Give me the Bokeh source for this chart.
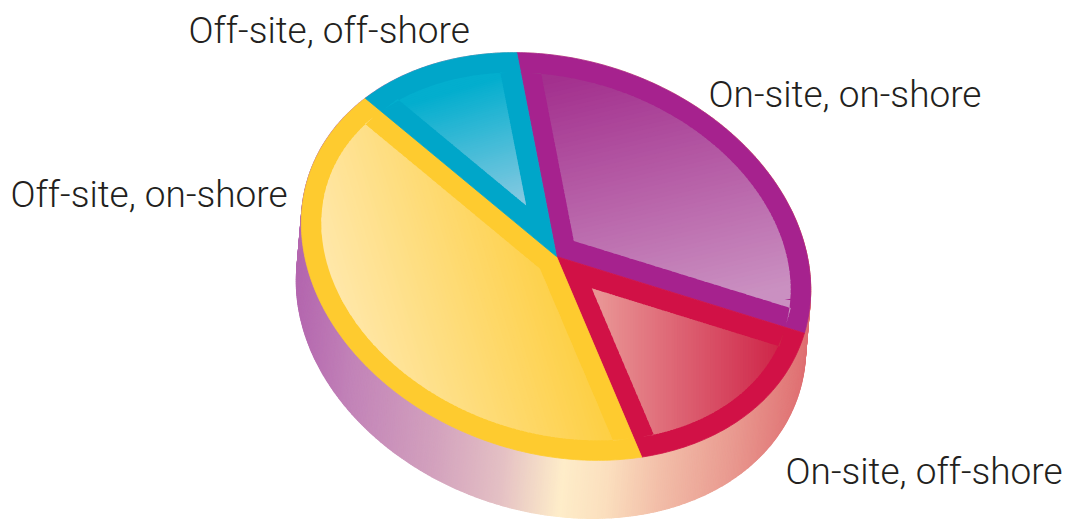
import numpy as np
from bokeh.plotting import figure
from bokeh.models import Range1d, ColumnDataSource
from bokeh.embed import file_html
from bokeh.resources import INLINE
from bokeh.core.properties import value

# ---------------- data ----------------
labels = ["On-site, on-shore", "On-site, off-shore", "Off-site, on-shore", "Off-site, off-shore"]
shares = [31, 16, 42, 11]
start_angle_deg = -112.7

# ---------------- style ----------------
border_colors = ["#A6228E", "#D11146", "#FECB2F", "#00A6C9"]
inner_from = ["#A3308E", "#E99494", "#FFE8AC", "#03AECE"]
inner_to = ["#CA90C1", "#CE2448", "#FDCC36", "#84C9E1"]
grad_axes = [((600, 70), (655, 315)), ((600, 330), (780, 330)),
             ((330, 300), (580, 225)), ((470, 85), (505, 205))]
side_stop_x = [295, 350, 430, 500, 560, 605, 660, 730, 805]
side_stop_c = ["#B365AE", "#C283B8", "#D2A0BD", "#E4C0C4", "#FEEDC9",
               "#FBDFBE", "#F2BDA8", "#E99A90", "#DF6F72"]
label_x = [708, 785, 10, 188]
label_y = [94, 470.5, 193.5, 29.5]

CX, CY = 555.5, 256.0
A, B = 260.0, 197.0
PHI = np.radians(18)
DEPTH = (-5.0, 58.0)
APEX = np.array([556.0, 256.0])
BORDER = 20.0


def hex2rgb(h):
    h = h.lstrip("#")
    return np.array([int(h[i:i + 2], 16) for i in (0, 2, 4)], dtype=float)


def rgb2hex(c):
    c = np.clip(np.round(c), 0, 255).astype(int)
    return "#%02x%02x%02x" % tuple(c)


def ell(t, dx=0.0, dy=0.0):
    u = A * np.cos(t)
    v = B * np.sin(t)
    x = CX + u * np.cos(PHI) - v * np.sin(PHI) + dx
    y = CY + u * np.sin(PHI) + v * np.cos(PHI) + dy
    return x, y


def inset_polygon(pts, d, interior):
    n = len(pts)
    lines = []
    for i in range(n):
        p = pts[i]
        q = pts[(i + 1) % n]
        e = q - p
        e = e / np.hypot(*e)
        nrm = np.array([-e[1], e[0]])
        if np.dot(nrm, interior - p) < 0:
            nrm = -nrm
        lines.append((p + d * nrm, e))
    out = []
    for i in range(n):
        P, E = lines[i - 1]
        Q, F = lines[i]
        den = E[0] * F[1] - E[1] * F[0]
        if abs(den) < 1e-9:
            out.append(Q)
        else:
            w = Q - P
            s = (w[0] * F[1] - w[1] * F[0]) / den
            out.append(P + s * E)
    return np.array(out)


def clip_half(poly, nvec, c):
    """Keep part of convex polygon with dot(P, nvec) >= c."""
    out = []
    n = len(poly)
    for i in range(n):
        P = poly[i]
        Q = poly[(i + 1) % n]
        dp = np.dot(P, nvec) - c
        dq = np.dot(Q, nvec) - c
        if dp >= 0:
            out.append(P)
        if (dp >= 0) != (dq >= 0):
            t = dp / (dp - dq)
            out.append(P + t * (Q - P))
    return np.array(out)


p = figure(width=1067, height=520, x_range=Range1d(0, 1067), y_range=Range1d(520, 0),
           output_backend="svg", toolbar_location=None, min_border=0,
           background_fill_color="white", border_fill_color="white")
p.axis.visible = False
p.grid.visible = False
p.outline_line_color = None

# ---------------- side wall ----------------
sc = np.array([hex2rgb(c) for c in side_stop_c])


def side_color(x):
    return rgb2hex([np.interp(x, side_stop_x, sc[:, k]) for k in range(3)])


N = 720
ts = np.linspace(0, 2 * np.pi, N + 1)
tx, ty = ell(ts)
bx, by = ell(ts, *DEPTH)
sxs, sys, scol = [], [], []
for i in range(N):
    xs = [tx[i], tx[i + 1], bx[i + 1], bx[i]]
    ys = [ty[i], ty[i + 1], by[i + 1], by[i]]
    sxs.append(xs)
    sys.append(ys)
    scol.append(side_color(np.mean(xs)))
p.patches(xs="xs", ys="ys", fill_color="c", line_color="c", line_width=1.2,
          source=ColumnDataSource(dict(xs=sxs, ys=sys, c=scol)))

# ---------------- top slices ----------------
total = float(sum(shares))
ang = np.radians(start_angle_deg)
fxs, fys, fcol = [], [], []
gxs, gys, gcol = [], [], []
for k, s in enumerate(shares):
    a0 = ang
    a1 = ang + 2 * np.pi * s / total
    ang = a1
    tt = np.linspace(a0, a1, max(24, int(140 * s / 30)))
    ax, ay = ell(tt)
    poly = np.vstack([APEX, np.column_stack([ax, ay])])
    fxs.append(list(poly[:, 0]))
    fys.append(list(poly[:, 1]))
    fcol.append(border_colors[k])

    mx, my = ell((a0 + a1) / 2)
    interior = 0.6 * APEX + 0.4 * np.array([mx, my])
    inner = inset_polygon(poly, BORDER, interior)

    c0 = hex2rgb(inner_from[k])
    c1 = hex2rgb(inner_to[k])
    P0 = np.array(grad_axes[k][0], dtype=float)
    P1 = np.array(grad_axes[k][1], dtype=float)
    D = P1 - P0
    L = np.hypot(*D)
    u = D / L
    proj = inner @ u
    lo, hi = proj.min(), proj.max()
    nb = 70
    edges = np.linspace(lo, hi, nb + 1)
    base = np.dot(P0, u)
    for j in range(nb):
        band = clip_half(inner, u, edges[j])
        if len(band) < 3:
            continue
        upper = edges[j + 1] + (1.2 if j < nb - 1 else 0)
        band = clip_half(band, -u, -upper)
        if len(band) < 3:
            continue
        mid = 0.5 * (edges[j] + edges[j + 1])
        f = np.clip((mid - base) / L, 0, 1)
        gxs.append(list(band[:, 0]))
        gys.append(list(band[:, 1]))
        gcol.append(rgb2hex(c0 + (c1 - c0) * f))

p.patches(xs="xs", ys="ys", fill_color="c", line_color="c", line_width=0.8,
          source=ColumnDataSource(dict(xs=fxs, ys=fys, c=fcol)))
p.patches(xs="xs", ys="ys", fill_color="c", line_color=None,
          source=ColumnDataSource(dict(xs=gxs, ys=gys, c=gcol)))

# ---------------- labels ----------------
p.text(x=label_x, y=label_y, text=labels, text_font=value("Roboto Light"),
       text_font_size="37px", text_color="#231F20", text_baseline="middle",
       text_align="left")

open("out.html", "w").write(file_html(p, INLINE))
